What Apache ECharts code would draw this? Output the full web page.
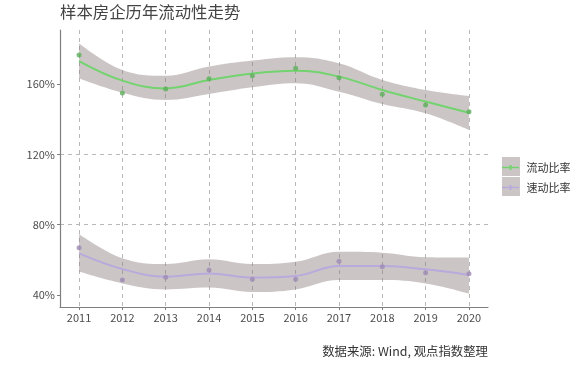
<!DOCTYPE html>
<html><head><meta charset="utf-8">
<script src="https://cdn.jsdelivr.net/npm/echarts@6/dist/echarts.min.js"></script>
<style>html,body{margin:0;padding:0;background:#fff}#c{width:580px;height:367px}</style>
</head><body><div id="c"></div>
<script>
const years = [2011,2012,2013,2014,2015,2016,2017,2018,2019,2020];
const yTicks = [40,80,120,160];
// 流动比率 (%)
const flowPoints = [176.5,154.9,157.2,163.0,164.7,168.9,163.6,154.1,148.0,144.2];
const flowFit    = [173.0,161.9,157.5,162.3,166.0,167.6,164.2,156.6,150.0,143.7];
const flowUpper  = [183.2,168.0,164.7,169.9,173.3,175.2,171.8,162.3,156.6,153.2];
const flowLower  = [163.2,155.0,150.9,154.3,158.1,160.4,155.6,148.6,143.3,133.8];
// 速动比率 (%)
const quickPoints = [66.9,48.5,50.1,54.2,48.9,48.9,59.2,56.1,52.7,52.1];
const quickFit    = [63.7,54.8,50.4,52.3,49.9,50.8,56.5,56.5,54.6,51.4];
const quickUpper  = [74.7,60.9,57.6,60.3,57.6,58.9,64.6,64.1,61.5,61.3];
const quickLower  = [53.3,46.6,43.2,44.2,41.7,43.2,48.5,48.5,46.6,40.8];

const pairs = arr => arr.map((v,i)=>[years[i], v]);
// value first, year second (so stacking happens on the value dimension)
const vPairs = arr => arr.map((v,i)=>[v, years[i]]);
const vDiff = (u,l) => u.map((v,i)=>[+(v-l[i]).toFixed(2), years[i]]);

const bandColor = 'rgba(140,128,126,0.45)';
const green = '#72d36f', greenPt = '#5caf5a';
const purple = '#b9a9dd', purplePt = '#9d8bb5';
const font = "'Noto Sans CJK SC', 'Noto Sans', sans-serif";

function band(name, lower, upper, stack){
  return [
    {type:'line', name:name+'_l', stack:stack, data:vPairs(lower), encode:{x:1, y:0},
     smooth:0.4, symbol:'none', lineStyle:{opacity:0}, silent:true, z:1},
    {type:'line', name:name+'_b', stack:stack, data:vDiff(upper,lower), encode:{x:1, y:0},
     smooth:0.4, symbol:'none', lineStyle:{opacity:0}, areaStyle:{color:bandColor, opacity:1}, silent:true, z:1}
  ];
}

const chart = echarts.init(document.getElementById('c'), null, {renderer:'canvas'});
const option = {
  animation:false,
  textStyle:{fontFamily:font},
  title:[
    {text:'样本房企历年流动性走势', left:60, top:4, padding:0,
     textStyle:{fontSize:16.4, fontWeight:'normal', color:'#444', fontFamily:font}},
    {text:'数据来源: Wind, 观点指数整理', right:92, top:345, padding:0,
     textStyle:{fontSize:12.4, fontWeight:'normal', color:'#333', fontFamily:font}}
  ],
  grid:{left:60, right:92, top:30, bottom:60},
  xAxis:{type:'value', min:2010.56, max:2020.44, minInterval:1, maxInterval:1,
    axisLine:{lineStyle:{color:'#7f7f7f', width:1.2}},
    axisTick:{customValues:years, length:3, lineStyle:{color:'#7f7f7f'}},
    axisLabel:{customValues:years, formatter:v=>String(v), color:'#4d4d4d', fontSize:11, margin:5, fontFamily:font},
    splitLine:{show:true, lineStyle:{color:'#b8b8b8', type:[4,4], width:1}}
  },
  yAxis:{type:'value', min:33.18, max:190.71, minInterval:40, maxInterval:40,
    axisLine:{show:true, lineStyle:{color:'#7f7f7f', width:1.2}},
    axisTick:{show:true, customValues:yTicks, length:3, lineStyle:{color:'#7f7f7f'}},
    axisLabel:{customValues:yTicks, formatter:'{value}%', color:'#4d4d4d', fontSize:11, margin:5, fontFamily:font},
    splitLine:{show:true, showMinLine:false, showMaxLine:false,
      lineStyle:{color:'#b8b8b8', type:[4,4], width:1}}
  },
  legend:[
    {data:[{name:'流动比率', icon:'path://M0,1.7h7.5v-1.7h2v1.7h7.5v1.6h-7.5v1.7h-2v-1.7h-7.5z'}],
     orient:'vertical', left:502, top:162, itemWidth:18, itemHeight:5, itemGap:0, padding:0,
     textStyle:{fontSize:11, color:'#333', fontFamily:font, padding:[0,0,0,2]}, selectedMode:false},
    {data:[{name:'速动比率', icon:'path://M0,1.7h7.5v-1.7h2v1.7h7.5v1.6h-7.5v1.7h-2v-1.7h-7.5z'}],
     orient:'vertical', left:502, top:182, itemWidth:18, itemHeight:5, itemGap:0, padding:0,
     textStyle:{fontSize:11, color:'#333', fontFamily:font, padding:[0,0,0,2]}, selectedMode:false}
  ],
  graphic:[
    {type:'rect', left:502, top:157, shape:{width:18, height:19}, style:{fill:'#cbc6c5'}, z:-1},
    {type:'rect', left:502, top:177, shape:{width:18, height:19}, style:{fill:'#cbc6c5'}, z:-1}
  ],
  series:[
    ...band('flow', flowLower, flowUpper, 'fband'),
    ...band('quick', quickLower, quickUpper, 'qband'),
    {type:'line', name:'流动比率', data:pairs(flowFit), smooth:0.4, symbol:'none',
     lineStyle:{color:green, width:2}, itemStyle:{color:green}, z:3},
    {type:'scatter', name:'流动比率pts', data:pairs(flowPoints), symbolSize:5,
     itemStyle:{color:greenPt}, z:4},
    {type:'line', name:'速动比率', data:pairs(quickFit), smooth:0.4, symbol:'none',
     lineStyle:{color:purple, width:2}, itemStyle:{color:purple}, z:3},
    {type:'scatter', name:'速动比率pts', data:pairs(quickPoints), symbolSize:5,
     itemStyle:{color:purplePt}, z:4}
  ]
};
chart.setOption(option);
</script></body></html>
